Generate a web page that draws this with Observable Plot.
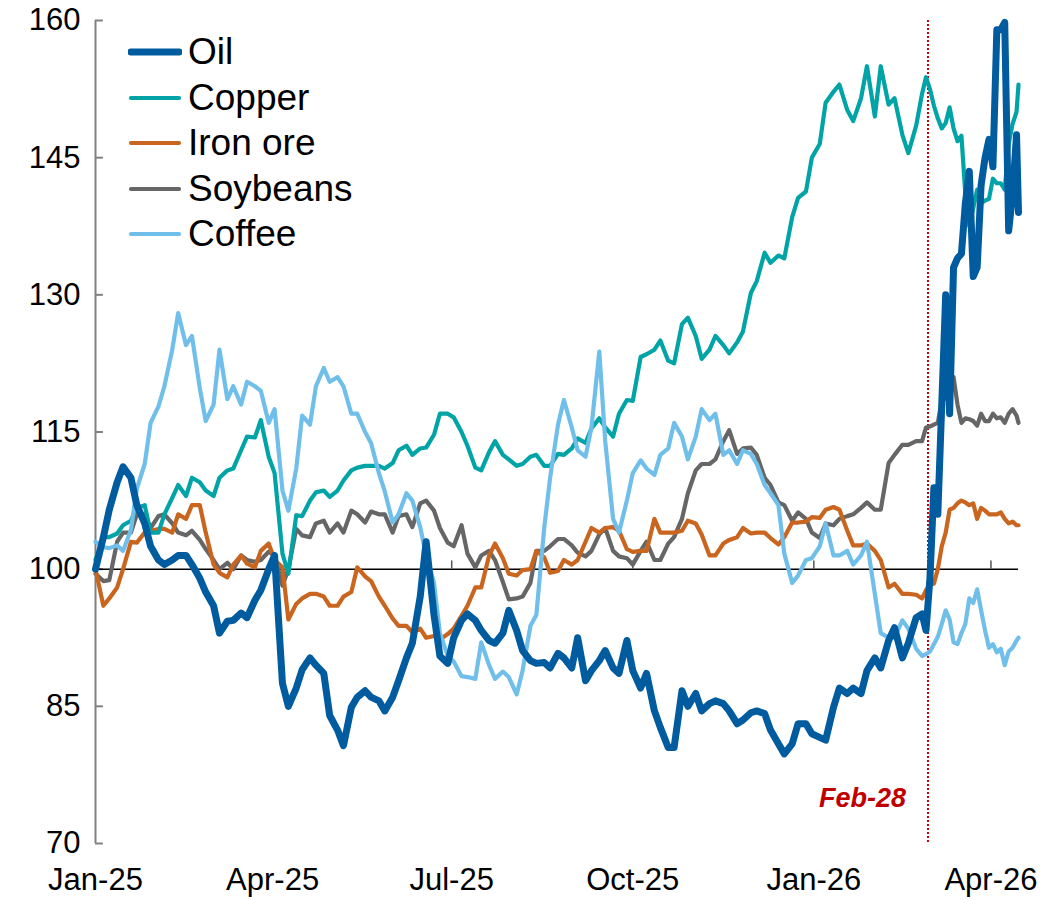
<!DOCTYPE html>
<html>
<head>
<meta charset="utf-8">
<script src="https://cdn.jsdelivr.net/npm/d3@7"></script>
<script src="https://cdn.jsdelivr.net/npm/@observablehq/plot@0.6"></script>
<style>
  html, body { margin: 0; padding: 0; background: #fff; }
  #wrap { position: relative; width: 1045px; height: 900px; font-family: "Liberation Sans", Arial, sans-serif; }
  #legend { position: absolute; left: 0; top: 0; }
  .item { position: absolute; display: flex; align-items: center; height: 44px; line-height: 44px; font-size: 37px; color: #000; white-space: nowrap; }
  .item svg { margin-right: 6px; }
</style>
</head>
<body>
<div id="wrap"><div id="chart"></div><div id="legend"></div></div>
<script>
const dates = [
  "2025-01-01","2025-01-05","2025-01-08","2025-01-12","2025-01-15","2025-01-19","2025-01-22","2025-01-26",
  "2025-01-29","2025-02-02","2025-02-05","2025-02-09","2025-02-12","2025-02-16","2025-02-19","2025-02-23",
  "2025-02-26","2025-03-02","2025-03-05","2025-03-09","2025-03-12","2025-03-16","2025-03-19","2025-03-23",
  "2025-03-26","2025-03-30","2025-04-02","2025-04-06","2025-04-09","2025-04-13","2025-04-16","2025-04-20",
  "2025-04-23","2025-04-27","2025-04-30","2025-05-04","2025-05-07","2025-05-11","2025-05-14","2025-05-18",
  "2025-05-21","2025-05-25","2025-05-28","2025-06-01","2025-06-04","2025-06-08","2025-06-11","2025-06-15",
  "2025-06-18","2025-06-22","2025-06-25","2025-06-29","2025-07-02","2025-07-06","2025-07-09","2025-07-13",
  "2025-07-16","2025-07-20","2025-07-23","2025-07-27","2025-07-30","2025-08-03","2025-08-06","2025-08-10",
  "2025-08-13","2025-08-17","2025-08-20","2025-08-24","2025-08-27","2025-08-31","2025-09-03","2025-09-07",
  "2025-09-10","2025-09-14","2025-09-17","2025-09-21","2025-09-24","2025-09-28","2025-10-01","2025-10-05",
  "2025-10-08","2025-10-12","2025-10-15","2025-10-19","2025-10-22","2025-10-26","2025-10-29","2025-11-02",
  "2025-11-05","2025-11-09","2025-11-12","2025-11-16","2025-11-19","2025-11-23","2025-11-26","2025-11-30",
  "2025-12-03","2025-12-07","2025-12-10","2025-12-14","2025-12-17","2025-12-21","2025-12-24","2025-12-28",
  "2025-12-31","2026-01-04","2026-01-07","2026-01-11","2026-01-14","2026-01-18","2026-01-21","2026-01-25",
  "2026-01-28","2026-02-01","2026-02-04","2026-02-08","2026-02-11","2026-02-15","2026-02-18","2026-02-22",
  "2026-02-25",
  "2026-02-27","2026-03-01","2026-03-03","2026-03-05","2026-03-07",
  "2026-03-09","2026-03-11","2026-03-13","2026-03-15","2026-03-17",
  "2026-03-19","2026-03-21","2026-03-23","2026-03-25","2026-03-27",
  "2026-03-29","2026-03-31","2026-04-02","2026-04-04","2026-04-06",
  "2026-04-08","2026-04-10","2026-04-12","2026-04-14","2026-04-15"
];

const oil = [
  100, 103.5, 106.5, 109.5, 111.2, 110, 107, 105,
  102.5, 101, 100.5, 101, 101.5, 101.5, 100.5, 99,
  97.5, 96, 93, 94.3, 94.4, 95.2, 94.7, 96.6,
  97.7, 100, 101.5, 87.5, 85, 87, 89, 90.3,
  89.5, 88.6, 84, 82.4, 80.7, 84.9, 86, 86.7,
  86, 85.6, 84.5, 86, 87.8, 90.3, 91.9, 97,
  103, 95, 90.5, 89.7, 92.5, 94.4, 95.1, 94.4,
  93.3, 92.2, 91.9, 93, 95.5, 93.3, 91.1, 90,
  89.7, 89.8, 89.2, 90.8, 90.3, 89.2, 92.5, 87.8,
  88.9, 90, 91.1, 89.2, 88.6, 92.2, 88.9, 87,
  88.6, 84.5, 82.7, 80.5, 80.5, 86.7, 85, 86.4,
  84.5, 85.3, 85.6, 85.3, 84.5, 83.1, 83.5, 84.3,
  84.5, 84.2, 82.4, 80.9, 79.8, 80.9, 83.1, 83.1,
  82, 81.6, 81.3, 84.9, 87, 86.4, 87, 86.4,
  88.9, 90.3, 89.2, 92.2, 93.6, 90.3, 91.9, 94.7,
  95.1,
  93.3, 99, 108.9, 106, 118,
  130, 117, 133, 134, 134.5,
  140, 143.5, 132, 133, 142,
  145, 147, 144, 159, 159,
  159.8, 137, 141, 147.5, 139
];

const copper = [
  101, 103.5, 103.5, 103.9, 104.8, 105.3, 106.7, 107,
  104, 104, 106, 107.8, 109.2, 108, 110, 109.5,
  108.6, 108, 110, 110.8, 111, 113, 114.5, 114.4,
  116.3, 112.3, 110.5, 101.7, 99.5, 105.9, 105.8, 107.5,
  108.4, 108.6, 107.9, 108.6, 109.7, 110.8, 111.1, 111.3,
  111.3, 111.3, 111, 111.6, 113, 113.5, 112.5, 113.2,
  113.3, 114.7, 117, 117, 116.6, 115, 113.5, 111.1,
  110.8, 112.8, 114, 112.5, 112, 111.3, 111.5, 112.3,
  112.5, 111.3, 111.3, 112.6, 112.5, 113.2, 114.3, 113.8,
  115.4, 116.5, 115.5, 114.5, 117, 118.5, 118.4, 123.2,
  123.5, 124, 125, 122.8, 122.5, 126.8, 127.5, 125.5,
  123, 124, 125.5, 124.5, 123.6, 124.8, 126, 130.2,
  131.5, 134.6, 133.5, 134.3, 134, 138.5, 140.6, 141.3,
  145, 146.5, 151, 152.2, 153, 150.2, 149, 151.5,
  155, 149.5, 155, 150.8, 151.5, 147.5, 145.5, 148.5,
  152,
  153.8, 152.5, 150.7, 149.3, 148.2,
  148.8, 150.5, 148.2, 146.8, 147.4,
  141, 137.5, 139.5, 141.5, 140,
  140.3, 140.5, 142.7, 142.2, 142.2,
  141.5, 146.5, 148.7, 150, 153
];

const ironOre = [
  100, 96, 96.8, 98, 100, 103, 102.9, 104,
  104.2, 104.4, 104.4, 104, 106, 105.5, 107, 107,
  104, 100.5, 99.6, 99.1, 100.5, 101.5, 100.6, 100.2,
  102, 102.8, 101, 100.2, 94.5, 96.2, 96.8, 97.3,
  97.3, 97, 96, 96, 97, 97.5, 100.2, 99.2,
  98.7, 97, 96, 94.6, 93.8, 93.8, 93.1, 93.5,
  92.5, 92.7, 92.3, 92.9, 93.5, 94.9, 96, 98,
  98, 101.5, 102.8, 101.2, 99.5, 99.3, 99.9, 100,
  102, 101.3, 99.6, 99.8, 101, 100.5, 101, 103,
  104.5, 104, 104.5, 104.6, 104.2, 102.2, 101.9, 102,
  102, 105.5, 104, 104, 104, 104.2, 105.3, 105,
  103.8, 101.5, 101.5, 102.8, 103.2, 103.5, 104.5, 103.9,
  104, 104, 103.4, 102.7, 103.5, 105.1, 105.1, 105.2,
  105.7, 105.6, 106.5, 106.8, 106.5, 104.2, 102.6, 102.6,
  102.8, 102, 101, 98, 98.4, 97.3, 97.3, 97.2,
  96.8,
  97.7, 98.3, 98.4, 100, 102.5,
  104, 106.5, 106.7, 107.2, 107.5,
  107.3, 107, 107.2, 105.5, 106.7,
  106.4, 106, 106, 106, 106.2,
  105.5, 105, 105.2, 104.8, 104.8
];

const soybeans = [
  99.5, 98.7, 98.8, 103, 104, 104, 106, 106,
  104.5, 105.8, 106, 105, 104, 103.7, 104.2, 103.2,
  102.2, 101, 100, 100.7, 100, 101.5, 101, 100.8,
  101, 101.9, 101.5, 98.2, 100, 104.4, 103.7, 103.5,
  105, 105.3, 104, 105, 104, 106.4, 106, 105.1,
  106.3, 106, 106, 104, 105.8, 106, 104.6, 107.2,
  107.5, 106.4, 104.5, 102.9, 102.5, 104.8, 101.7, 100.2,
  101.5, 102, 101, 98.6, 96.7, 96.8, 97, 98.5,
  102, 102, 102.5, 103.3, 103.3, 102.6, 101.8, 101.4,
  102, 103.8, 104.5, 102, 101.4, 101.2, 100.5, 102,
  103, 101, 101, 102.8, 103.5, 105.5, 108.3, 110.8,
  111.5, 111.5, 112, 114, 115.2, 112.6, 113.2, 113.3,
  112.5, 110, 109.2, 107.3, 107, 105.3, 106.2, 105.5,
  104, 103.4, 105, 104.8, 105.5, 105.8, 106, 106.7,
  107.3, 106.5, 106.5, 111.6, 112.5, 113.6, 113.6, 114,
  114,
  115.5, 115.6, 115.8, 116, 118.4,
  118.7, 118.5, 121, 118, 116,
  116.5, 116.4, 116.2, 115.7, 117,
  116.2, 116.2, 117, 116.5, 116.6,
  116, 117, 117.5, 116.8, 116
];

const coffee = [
  103, 102.4, 102.3, 102.6, 102, 104.3, 108.8, 111.5,
  116, 117.8, 120, 124, 128, 124.5, 125.5, 119.8,
  116.2, 118, 124, 118.6, 120, 118, 120.5, 120,
  119.5, 116, 117.5, 108.6, 106.4, 111, 116.8, 115.8,
  120, 122, 120.5, 121, 120, 117, 117, 115,
  113.8, 110.5, 108.5, 105.1, 106, 108.3, 107.5, 104.6,
  101.5, 98.5, 93, 90.5, 89.9, 88.3, 88.2, 88,
  92, 89.5, 88, 88.8, 88.2, 86.3, 88.9, 93.8,
  95, 104.5, 110, 115.8, 118.5, 115.5, 113, 112.3,
  115.5, 123.8, 114, 105.5, 104, 107.5, 110.5, 111.9,
  111, 110.3, 112.5, 113.2, 116, 114.5, 112, 114.5,
  117.5, 116.3, 117, 112.5, 113, 111.5, 113, 112.6,
  111.5, 109.2, 108.3, 107, 101.7, 98.5, 99.3, 101,
  101.2, 102.5, 105, 101.5, 101.5, 102, 100.5, 101.5,
  103, 97.3, 93, 92.5, 92.5, 94.4, 93.5, 91.3,
  90.5,
  90.7, 91, 91.8, 92.6, 94,
  95.5, 94.5, 92, 91.8, 93,
  94, 96.8, 96.3, 97.8, 95.5,
  93.3, 91.4, 91.8, 90.9, 91.3,
  89.5, 91, 91.4, 92.2, 92.5
];

const seriesNames = ["Oil", "Copper", "Iron ore", "Soybeans", "Coffee"];
const seriesColors = ["#005C9F", "#00A4A6", "#C9651E", "#666666", "#6FBFEA"];
const seriesWidths = [7, 4.2, 4.2, 4.2, 4.2];
const seriesValues = [oil, copper, ironOre, soybeans, coffee];

const yTicks = [70, 85, 100, 115, 130, 145, 160];
const xTicks = ["2025-01-01","2025-04-01","2025-07-01","2025-10-01","2026-01-01","2026-04-01"];
const xDomain = ["2025-01-01", "2026-04-15"];
const eventDate = "2026-02-28";
const eventLabel = "Feb-28";

const parse = s => new Date(s);
const xStart = parse(xDomain[0]);
const tickEndDate = parse("2025-01-05");

const tables = seriesNames.map((name, si) =>
  dates.map((d, i) => ({ date: parse(d), value: seriesValues[si][i], name }))
);

const drawOrder = [3, 2, 1, 4, 0];

const chart = Plot.plot({
  width: 1045,
  height: 900,
  marginLeft: 95,
  marginRight: 27,
  marginTop: 20,
  marginBottom: 57,
  style: { fontFamily: "'Liberation Sans', Arial, sans-serif", fontSize: "31px", color: "#000", background: "#fff", overflow: "visible" },
  x: { type: "utc", domain: xDomain.map(parse) },
  y: { domain: [70, 160] },
  marks: [
    Plot.axisY({ ticks: yTicks, tickSize: 0, tickPadding: 15, label: null, fontSize: 31 }),
    Plot.axisX({ ticks: xTicks.map(parse), tickSize: 0, tickPadding: 24, label: null, fontSize: 31, tickFormat: d3.utcFormat("%b-%y") }),
    Plot.ruleX([xStart], { stroke: "#808080", strokeWidth: 2 }),
    Plot.ruleY(yTicks, { x1: xStart, x2: tickEndDate, stroke: "#808080", strokeWidth: 2 }),
    Plot.ruleY([100], { stroke: "#000", strokeWidth: 1.5 }),
    Plot.ruleX(xTicks.map(parse), { y1: 100, y2: 100.9, stroke: "#555", strokeWidth: 1.5 }),
    Plot.ruleX([parse(eventDate)], { stroke: "#C00000", strokeWidth: 2, strokeDasharray: "2,2" }),
    Plot.text([eventLabel], { x: parse(eventDate), frameAnchor: "bottom", dy: -37, dx: -22, textAnchor: "end", fill: "#C00000", fontSize: 27, fontWeight: "bold", fontStyle: "italic" }),
    ...drawOrder.map(si => Plot.line(tables[si], {
      x: "date", y: "value",
      stroke: seriesColors[si], strokeWidth: seriesWidths[si],
      strokeLinejoin: "round", strokeLinecap: "round"
    }))
  ]
});
document.getElementById("chart").appendChild(chart);

const legend = document.getElementById("legend");
seriesNames.forEach((name, i) => {
  const item = document.createElement("div");
  item.className = "item";
  item.style.left = "128px";
  item.style.top = (30 + i * 45.5) + "px";
  item.innerHTML = `<svg width="54" height="20"><line x1="3" y1="10" x2="51" y2="10" stroke="${seriesColors[i]}" stroke-width="${seriesWidths[i]}" stroke-linecap="round"/></svg><span>${name}</span>`;
  legend.appendChild(item);
});
</script>
</body>
</html>
